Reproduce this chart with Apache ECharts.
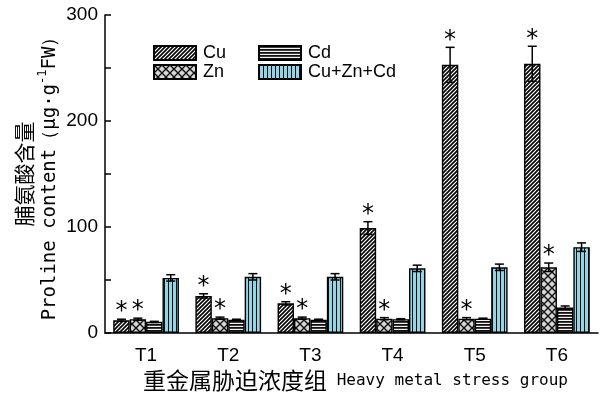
<!DOCTYPE html>
<html>
<head>
<meta charset="utf-8">
<script src="https://cdn.jsdelivr.net/npm/echarts@6/dist/echarts.min.js"></script>
<style>
  html, body { margin: 0; padding: 0; background: #fff; }
  #chart { width: 605px; height: 393px; }
</style>
</head>
<body>
<div id="chart"></div>
<script>
// Proline content of leaves under heavy-metal stress, groups T1–T6
const groups = ['T1', 'T2', 'T3', 'T4', 'T5', 'T6'];

const cuMean  = [12, 35, 28, 99, 253, 254];
const cuErr   = [1, 2, 1.5, 6, 16.5, 16.5];
const cuSig   = [1, 1, 1, 1, 1, 1];

const znMean  = [13, 14, 14, 13.5, 13.5, 62];
const znErr   = [1, 1, 1, 1, 1, 4];
const znSig   = [1, 1, 1, 1, 1, 1];

const cdMean  = [10.5, 12.5, 12.5, 13, 13.5, 24];
const cdErr   = [0.5, 0.5, 0.5, 0.5, 0.5, 1.5];
const cdSig   = [0, 0, 0, 0, 0, 0];

const mixMean = [52, 53, 53, 61, 62, 81];
const mixErr  = [3, 3, 3, 3, 3, 4];
const mixSig  = [0, 0, 0, 0, 0, 0];

const seriesNames = ['Cu', 'Zn', 'Cd', 'Cu+Zn+Cd'];
const yTicks = [0, 100, 200, 300];

// ---- fill patterns ----
function makeTile(w, h, draw) {
  const c = document.createElement('canvas');
  c.width = w; c.height = h;
  const ctx = c.getContext('2d');
  draw(ctx, w, h);
  return { image: c, repeat: 'repeat' };
}
const hatchDiag = makeTile(4, 4, (ctx, w, h) => {
  ctx.fillStyle = '#ffffff'; ctx.fillRect(0, 0, w, h);
  ctx.strokeStyle = '#000'; ctx.lineWidth = 1.6;
  ctx.beginPath();
  ctx.moveTo(-1, h + 1); ctx.lineTo(w + 1, -1);
  ctx.moveTo(-1, 1); ctx.lineTo(1, -1);
  ctx.moveTo(w - 1, h + 1); ctx.lineTo(w + 1, h - 1);
  ctx.stroke();
});
const hatchCross = makeTile(8, 8, (ctx, w, h) => {
  ctx.fillStyle = '#d6d6d6'; ctx.fillRect(0, 0, w, h);
  ctx.strokeStyle = '#111'; ctx.lineWidth = 1.4;
  ctx.beginPath();
  ctx.moveTo(0, 0); ctx.lineTo(w, h);
  ctx.moveTo(0, h); ctx.lineTo(w, 0);
  ctx.stroke();
});
const hatchHoriz = makeTile(4, 3, (ctx, w, h) => {
  ctx.fillStyle = '#f2f2f2'; ctx.fillRect(0, 0, w, h);
  ctx.fillStyle = '#111'; ctx.fillRect(0, 0, w, 1.8);
});
const hatchVert = makeTile(4, 4, (ctx, w, h) => {
  ctx.fillStyle = '#95d4e4'; ctx.fillRect(0, 0, w, h);
  ctx.fillStyle = '#111'; ctx.fillRect(0, 0, 1, h);
});
const fills = [hatchDiag, hatchCross, hatchHoriz, hatchVert];

const means = [cuMean, znMean, cdMean, mixMean];
const errs  = [cuErr, znErr, cdErr, mixErr];
const sigs  = [cuSig, znSig, cdSig, mixSig];

const latin = 'Liberation Sans, Arial, sans-serif';
const mono = 'DejaVu Sans Mono, Liberation Mono, monospace';
const cjk = 'Noto Sans CJK SC, sans-serif';

const barSeries = seriesNames.map((name, i) => ({
  name: name,
  type: 'bar',
  data: means[i],
  barGap: '0%',
  barCategoryGap: '20%',
  itemStyle: { color: fills[i], borderColor: '#000', borderWidth: 1.4 },
  emphasis: { disabled: true },
  z: 2
}));

// error bars with significance stars, one custom series per treatment
const errSeries = seriesNames.map((name, i) => ({
  type: 'custom',
  name: name + '-err',
  silent: true,
  z: 5,
  data: groups.map((g, k) => [k, means[i][k], errs[i][k], sigs[i][k]]),
  renderItem: function (params, api) {
    const k = api.value(0), m = api.value(1), e = api.value(2), s = api.value(3);
    const band = api.size([1, 0])[0];
    const bw = band * 0.8 / 4;
    const cx = api.coord([k, 0])[0] - 2 * bw + (i + 0.5) * bw;
    const yTop = api.coord([k, m + e])[1];
    const yBot = api.coord([k, m - e])[1];
    const cap = 4.5;
    const style = { stroke: '#000', lineWidth: 1.5, fill: null };
    const children = [
      { type: 'line', shape: { x1: cx, y1: yTop, x2: cx, y2: yBot }, style: style },
      { type: 'line', shape: { x1: cx - cap, y1: yTop, x2: cx + cap, y2: yTop }, style: style },
      { type: 'line', shape: { x1: cx - cap, y1: yBot, x2: cx + cap, y2: yBot }, style: style }
    ];
    if (s) {
      children.push({
        type: 'text',
        style: {
          text: '*', x: cx, y: yTop - 7,
          align: 'center', verticalAlign: 'middle',
          font: '24px DejaVu Sans, sans-serif', fill: '#000'
        }
      });
    }
    return { type: 'group', children: children };
  }
}));

const legendCommon = {
  orient: 'vertical',
  top: 39,
  itemWidth: 42,
  itemHeight: 14,
  itemGap: 1,
  icon: 'rect',
  selectedMode: false,
  textStyle: { fontFamily: latin, fontSize: 18, color: '#000', padding: [0, 0, 0, 2] }
};

const option = {
  animation: false,
  backgroundColor: '#fff',
  grid: { left: 105, right: 7, top: 15, bottom: 60, containLabel: false, outerBoundsMode: 'none' },
  legend: [
    Object.assign({}, legendCommon, { left: 148, data: ['Cu', 'Zn'] }),
    Object.assign({}, legendCommon, { left: 253, data: ['Cd', 'Cu+Zn+Cd'] })
  ],
  xAxis: {
    type: 'category',
    data: groups,
    boundaryGap: true,
    axisLine: { lineStyle: { color: '#000', width: 1.5 } },
    axisTick: { inside: true, length: 4, alignWithLabel: false, lineStyle: { color: '#000', width: 1.5 } },
    axisLabel: { color: '#000', fontFamily: latin, fontSize: 19, margin: 13 },
    name: '{cn|重金属胁迫浓度组}{en| Heavy metal stress group}',
    nameLocation: 'middle',
    nameGap: 36,
    nameMoveOverlap: false,
    nameTextStyle: {
      color: '#000',
      padding: [0, 0, 0, 8],
      rich: {
        cn: { fontFamily: cjk, fontSize: 23, color: '#000' },
        en: { fontFamily: mono, fontSize: 16, color: '#000' }
      }
    }
  },
  yAxis: {
    type: 'value',
    min: 0, max: 300, interval: 50,
    axisLine: { show: true, lineStyle: { color: '#000', width: 1.5 } },
    axisTick: { show: true, inside: true, length: 6, lineStyle: { color: '#000', width: 1.5 } },
    splitLine: { show: false },
    axisLabel: {
      color: '#000', fontFamily: latin, fontSize: 19, margin: 7,
      formatter: v => (yTicks.indexOf(v) >= 0 ? String(v) : '')
    },
    name: '{cn|脯氨酸含量}\n{en|Proline content（μg·g}{sup|-1}{en|FW）}',
    nameLocation: 'middle',
    nameGap: 42,
    nameMoveOverlap: false,
    nameTextStyle: {
      color: '#000',
      lineHeight: 26,
      rich: {
        cn: { fontFamily: cjk, fontSize: 21, color: '#000', lineHeight: 26 },
        en: { fontFamily: mono, fontSize: 19, color: '#000', lineHeight: 26 },
        sup: { fontFamily: mono, fontSize: 12, color: '#000', verticalAlign: 'top', lineHeight: 26 }
      }
    }
  },
  series: barSeries.concat(errSeries)
};

const chart = echarts.init(document.getElementById('chart'), null, { renderer: 'canvas' });
chart.setOption(option);
</script>
</body>
</html>
